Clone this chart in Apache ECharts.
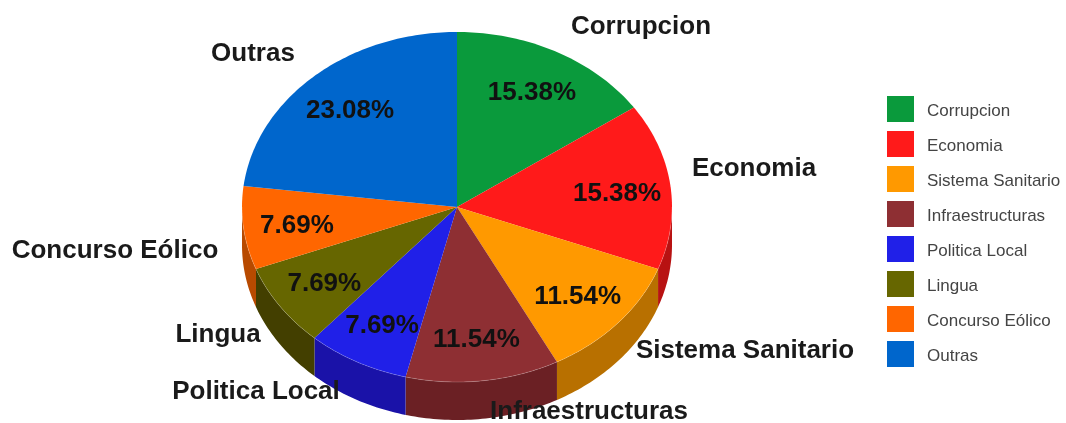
<!DOCTYPE html>
<html>
<head>
<meta charset="utf-8">
<style>
	html, body { margin: 0; padding: 0; background: #fff; }
	#echartPie { width: 1066px; height: 423px; }
</style>
</head>
<body>
<div id="echartPie"></div>
<script src="https://cdn.jsdelivr.net/npm/echarts@6/dist/echarts.min.js"></script>
<script>
	var categories = ['Corrupcion', 'Economia', 'Sistema Sanitario', 'Infraestructuras', 'Politica Local', 'Lingua', 'Concurso Eólico', 'Outras'];
	var percents = [15.38, 15.38, 11.54, 11.54, 7.69, 7.69, 7.69, 23.08];
	var topColors = ['#0a9a3c', '#ff1a1a', '#ff9900', '#8e2f33', '#2020e8', '#666600', '#ff6600', '#0066cc'];
	var wallColors = ['#076e2b', '#b81212', '#b87000', '#6b2024', '#1a12a8', '#433f00', '#b84a00', '#004c99'];
	// where the bold names sit, they are not on a radius in the original
	var nameX = [641, 754, 745, 589, 256, 218, 115, 253];
	var nameY = [27, 169, 351, 412, 392, 335, 251, 54];

	var cx = 457, cy = 207, rx = 215, ry = 175, depth = 38;
	var labelRadius = 0.75;
	var labelDrop = 2.5;

	var total = percents.reduce(function(a, b) { return a + b; }, 0);

	// angle in degrees, clockwise from the top of the ellipse
	function toPoint(deg, k, down) {
		var rad = deg * Math.PI / 180;
		return [cx + rx * k * Math.sin(rad), cy - ry * k * Math.cos(rad) + (down || 0)];
	}
	function arcPoints(from, to, down) {
		var pts = [];
		for (var a = from; a < to; a += 1) {
			pts.push(toPoint(a, 1, down));
		}
		pts.push(toPoint(to, 1, down));
		return pts;
	}

	function renderSlice(params, api) {
		var start = api.value(0) / total * 360;
		var end = (api.value(0) + api.value(1)) / total * 360;
		var i = api.value(2);
		var children = [];

		var wallFrom = Math.max(start, 90), wallTo = Math.min(end, 270);
		if (wallFrom < wallTo) {
			var wall = arcPoints(wallFrom, wallTo, 0).concat(arcPoints(wallFrom, wallTo, depth).reverse());
			children.push({ type: 'polygon', shape: { points: wall }, style: { fill: wallColors[i] } });
		}
		var top = [[cx, cy]].concat(arcPoints(start, end, 0));
		children.push({ type: 'polygon', shape: { points: top }, style: { fill: topColors[i] } });
		if (wallFrom < wallTo) {
			children.push({
				type: 'polyline',
				shape: { points: arcPoints(wallFrom, wallTo, 0) },
				style: { fill: null, stroke: 'rgba(255,255,255,0.18)', lineWidth: 1 }
			});
		}
		return { type: 'group', children: children };
	}

	function renderLabel(params, api) {
		var i = api.value(0);
		var mid = (api.value(1) + api.value(2) / 2) / total * 360;
		var p = toPoint(mid, labelRadius, labelDrop);
		return {
			type: 'group',
			children: [{
				type: 'text', x: p[0], y: p[1],
				style: {
					text: api.value(2).toFixed(2) + '%', align: 'center', verticalAlign: 'middle',
					font: 'bold 26px "Liberation Sans"', fill: '#111'
				}
			}, {
				type: 'text', x: nameX[i], y: nameY[i],
				style: {
					text: categories[i], align: 'center', verticalAlign: 'middle',
					font: 'bold 26px "Liberation Sans"', fill: '#1a1a1a'
				}
			}]
		};
	}

	var seriesData = [];
	var labelData = [];
	var sum = 0;
	for (var i = 0; i < categories.length; i++) {
		seriesData.push({
			name: categories[i],
			type: 'custom',
			coordinateSystem: 'none',
			silent: true,
			animation: false,
			itemStyle: { color: topColors[i] },
			renderItem: renderSlice,
			data: [[sum, percents[i], i]]
		});
		labelData.push([i, sum, percents[i]]);
		sum += percents[i];
	}
	seriesData.push({
		name: 'labels',
		type: 'custom',
		coordinateSystem: 'none',
		silent: true,
		animation: false,
		z: 5,
		renderItem: renderLabel,
		data: labelData
	});

	var pieChart = echarts.init(document.getElementById('echartPie'), null, { renderer: 'canvas' });
	var pieOption = {
		animation: false,
		backgroundColor: '#fff',
		legend: {
			data: categories.map(function(name) { return { name: name, icon: 'rect' }; }),
			orient: 'vertical',
			left: 887,
			top: 96,
			padding: 0,
			itemWidth: 27,
			itemHeight: 26,
			itemGap: 9,
			selectedMode: false,
			formatter: '{t|{name}}',
			textStyle: {
				padding: [0, 0, 0, 8],
				rich: {
					t: { fontFamily: 'Liberation Sans', fontSize: 17, color: '#444', padding: [5, 0, 0, 0] }
				}
			}
		},
		series: seriesData
	};
	pieChart.setOption(pieOption);
</script>
</body>
</html>
